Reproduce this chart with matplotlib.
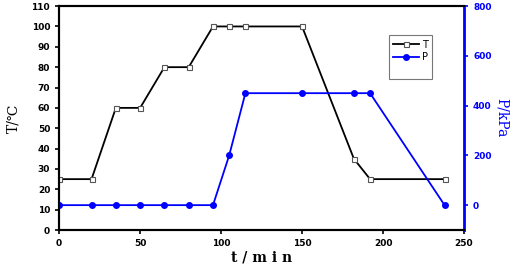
import matplotlib.pyplot as plt
from matplotlib.lines import Line2D

# time (min) and values
t_time = [0, 20, 35, 50, 65, 80, 95, 105, 115, 150, 182, 192, 238]
temp = [25, 25, 60, 60, 80, 80, 100, 100, 100, 100, 35, 25, 25]
p_time = [0, 20, 35, 50, 65, 80, 95, 105, 115, 150, 182, 192, 238]
pres = [0, 0, 0, 0, 0, 0, 0, 200, 450, 450, 450, 450, 0]

fig = plt.figure(figsize=(5.19, 2.65), dpi=100)
ax = fig.add_axes([0.114, 0.132, 0.78, 0.845])
ax2 = ax.twinx()

lt, = ax.plot(t_time, temp, color='black', lw=1.3, marker='s', ms=3.6,
              mfc='white', mec='#555555', mew=0.8, label='T')
lp, = ax2.plot(p_time, pres, color='blue', lw=1.3, marker='o', ms=4,
               mfc='blue', mec='blue', label='P')

ax.set_xlim(0, 250)
ax.set_ylim(0, 110)
ax.set_xticks(range(0, 251, 50))
ax.set_yticks(range(0, 111, 10))
ax2.set_ylim(-100, 800)
ax2.set_yticks(range(0, 801, 200))

for a in (ax, ax2):
    for lab in a.get_xticklabels() + a.get_yticklabels():
        lab.set_fontsize(6.5)
        lab.set_fontweight('bold')
ax2.tick_params(axis='y', colors='blue', length=3, width=1.2)
ax.tick_params(length=3, width=1.2)
for s in ['left', 'bottom', 'top']:
    ax.spines[s].set_linewidth(1.5)
ax2.spines['right'].set_color('blue')
ax2.spines['right'].set_linewidth(2)
ax2.spines['left'].set_linewidth(1.5)
ax2.spines['top'].set_linewidth(1.5)
ax2.spines['bottom'].set_linewidth(1.5)

ax.set_xlabel('t / m i n', family='DejaVu Serif', fontsize=10, fontweight='bold', labelpad=2)
ax.set_ylabel('T/\u2103', family='DejaVu Serif', fontsize=10, labelpad=8)
ax2.set_ylabel('P/kPa', family='DejaVu Serif', fontsize=10, color='blue',
               rotation=270, labelpad=12)

# empty third row keeps the blank space at the bottom of the legend box
blank = Line2D([], [], color='none')
leg = ax.legend(handles=[lt, lp, blank], labels=['T', 'P', ''], loc='upper left',
                bbox_to_anchor=(0.815, 0.87),
                fontsize=7, frameon=True, fancybox=False, edgecolor='#555555',
                handlelength=2.6, handletextpad=0.3, borderpad=0.45,
                labelspacing=0.25, borderaxespad=0)
leg.get_frame().set_linewidth(0.8)

fig.savefig('out.png', dpi=100)
